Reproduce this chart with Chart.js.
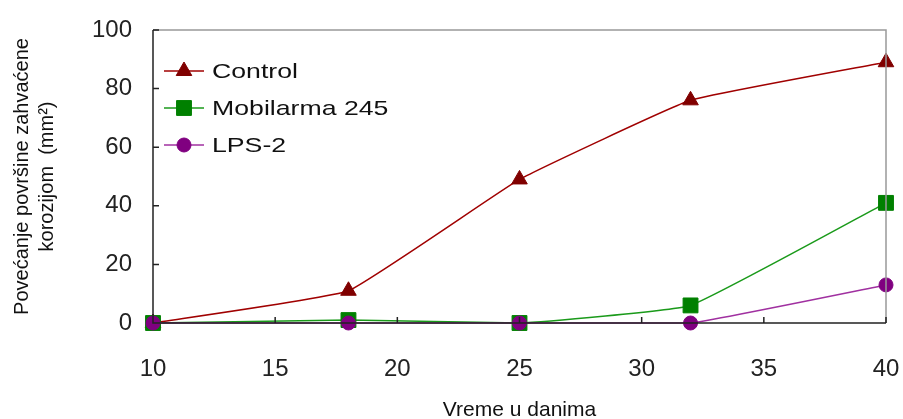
<!DOCTYPE html>
<html>
<head>
<meta charset="utf-8">
<script src="https://cdn.jsdelivr.net/npm/chart.js@4"></script>
<style>
  html, body { margin: 0; padding: 0; background: #fff; }
  #wrap { width: 903px; height: 419px; }
</style>
</head>
<body>
<div id="wrap"><canvas id="corrosion_chart"></canvas></div>
<script>
var days = [10, 18, 25, 32, 40];
var controlValues = [0, 11, 49, 76, 89];
var mobilarmaValues = [0, 1, 0, 6, 41];
var lpsValues = [0, 0, 0, 0, 13];
var xTicks = [10, 15, 20, 25, 30, 35, 40];
var yTicks = [0, 20, 40, 60, 80, 100];

var FONT = '"Liberation Sans", Arial, sans-serif';

function toPoints(values) {
    return days.map(function (d, i) { return { x: d, y: values[i] }; });
}

// frame, inner ticks and the in-plot legend
var framePlugin = {
    id: 'frame',
    afterDatasetsDraw: function (chart) {
        var ctx = chart.ctx, a = chart.chartArea;
        var xs = chart.scales.x, ys = chart.scales.y;
        ctx.save();
        ctx.strokeStyle = '#999';
        ctx.lineWidth = 1.5;
        ctx.beginPath();
        ctx.moveTo(a.left, a.top);
        ctx.lineTo(a.right, a.top);
        ctx.lineTo(a.right, a.bottom);
        ctx.stroke();

        ctx.strokeStyle = '#222';
        ctx.beginPath();
        ctx.moveTo(a.left, a.top);
        ctx.lineTo(a.left, a.bottom);
        ctx.lineTo(a.right, a.bottom);
        yTicks.forEach(function (v) {
            var y = ys.getPixelForValue(v);
            ctx.moveTo(a.left, y);
            ctx.lineTo(a.left + 6, y);
        });
        xTicks.forEach(function (v) {
            var x = xs.getPixelForValue(v);
            ctx.moveTo(x, a.bottom);
            ctx.lineTo(x, a.bottom - 6);
        });
        ctx.stroke();
        ctx.restore();
    },
    afterDraw: function (chart) {
        var ctx = chart.ctx;
        chart.data.datasets.forEach(function (ds, i) {
            var y = 71 + i * 37;
            ctx.save();
            ctx.strokeStyle = ds.borderColor;
            ctx.lineWidth = 1.5;
            ctx.beginPath();
            ctx.moveTo(164, y);
            ctx.lineTo(204, y);
            ctx.stroke();
            ctx.fillStyle = ds.pointBackgroundColor;
            ctx.strokeStyle = ds.pointBorderColor;
            ctx.lineWidth = 1;
            Chart.helpers.drawPoint(ctx, {
                pointStyle: ds.pointStyle,
                radius: ds.pointRadius,
                borderWidth: 1
            }, 184, y);
            ctx.restore();

            // the original legend text is drawn wide
            ctx.save();
            ctx.font = '21px ' + FONT;
            ctx.textBaseline = 'middle';
            ctx.fillStyle = '#111';
            ctx.translate(212, y + 1);
            ctx.scale(1.27, 1);
            ctx.fillText(ds.label, 0, 0);
            ctx.restore();
        });
    }
};

new Chart(document.getElementById('corrosion_chart').getContext('2d'), {
    type: 'line',
    data: {
        datasets: [{
            label: 'Control',
            data: toPoints(controlValues),
            borderColor: '#a00000',
            pointBackgroundColor: '#800000',
            pointBorderColor: '#800000',
            pointStyle: 'triangle',
            pointRadius: 9,
            order: 3
        }, {
            label: 'Mobilarma 245',
            data: toPoints(mobilarmaValues),
            borderColor: '#1a9a1a',
            pointBackgroundColor: '#008000',
            pointBorderColor: '#008000',
            pointStyle: 'rect',
            pointRadius: 10.5,
            order: 2
        }, {
            label: 'LPS-2',
            data: toPoints(lpsValues),
            borderColor: '#a030a0',
            pointBackgroundColor: '#800080',
            pointBorderColor: '#800080',
            pointStyle: 'circle',
            pointRadius: 7,
            order: 1
        }]
    },
    options: {
        responsive: true,
        maintainAspectRatio: false,
        animation: false,
        clip: false,
        layout: { padding: { left: 10, top: 30, right: 17, bottom: 0 } },
        elements: {
            line: { borderWidth: 1.5, tension: 0.1, fill: false },
            point: { borderWidth: 1, hoverRadius: 8 }
        },
        plugins: {
            legend: { display: false },
            tooltip: { enabled: false }
        },
        scales: {
            x: {
                type: 'linear',
                min: 10,
                max: 40,
                afterBuildTicks: function (scale) {
                    scale.ticks = xTicks.map(function (v) { return { value: v }; });
                },
                afterFit: function (scale) {
                    scale.height = 96;
                    scale.paddingLeft = 0;
                    scale.paddingRight = 0;
                },
                grid: { display: false, drawTicks: false },
                border: { display: false },
                ticks: { color: '#222', font: { family: FONT, size: 24 }, padding: 32, maxRotation: 0 },
                title: {
                    display: true,
                    text: 'Vreme u danima',
                    color: '#111',
                    font: { family: FONT, size: 21 },
                    padding: { top: 4, bottom: -4 }
                }
            },
            y: {
                min: 0,
                max: 100,
                afterBuildTicks: function (scale) {
                    scale.ticks = yTicks.map(function (v) { return { value: v }; });
                },
                afterFit: function (scale) {
                    scale.width = 143;
                    scale.paddingTop = 0;
                    scale.paddingBottom = 0;
                },
                grid: { display: false, drawTicks: false },
                border: { display: false },
                ticks: { color: '#222', font: { family: FONT, size: 24 }, padding: 21 },
                title: {
                    display: true,
                    text: ['Povećanje površine zahvaćene', 'korozijom  (mm²)'],
                    color: '#111',
                    font: { family: FONT, size: 20, lineHeight: 1.25 },
                    padding: 0
                }
            }
        }
    },
    plugins: [framePlugin]
});
</script>
</body>
</html>
